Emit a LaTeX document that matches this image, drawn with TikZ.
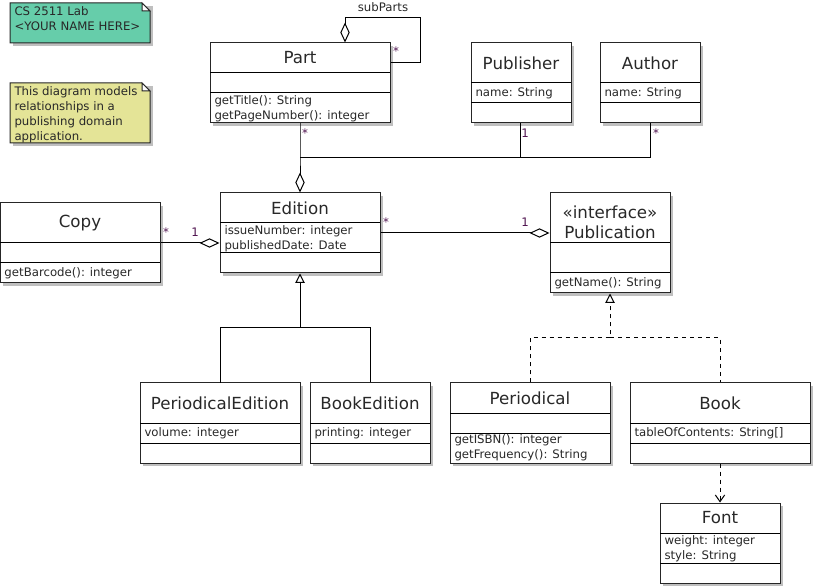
\documentclass[tikz,border=0pt]{standalone}
\usepackage{fontspec}
\setmainfont{DejaVu Sans}
\usetikzlibrary{arrows.meta}
\definecolor{notegreen}{RGB}{102,205,170}
\definecolor{noteyellow}{RGB}{228,228,151}
\definecolor{txt}{RGB}{40,40,40}
\definecolor{mult}{RGB}{80,20,80}
\tikzset{every picture/.style={line width=0.75pt}}
\tikzset{
  classbox/.style={draw=black!85, fill=white, inner sep=0pt},
  boxshadow/.style={fill=black!25, draw=none},
  title/.style={inner sep=0pt, font=\fontsize{12.5}{15}\selectfont, text=txt, align=center},
  member/.style={anchor=north west, inner sep=0pt, font=\fontsize{8.8}{11.2}\selectfont, text=txt, align=left},
  multlabel/.style={inner sep=0pt, font=\fontsize{8.8}{11}\selectfont, text=mult},
  diam/.style={-{Diamond[open,fill=white,length=15pt,width=7pt]}},
  inherit/.style={-{Triangle[open,fill=white,length=7pt,width=7pt]}},
  depend/.style={dashed, -{Straight Barb[length=5pt,width=7pt]}},
}
% class box: name, x1, y1, x2, y2
\newcommand{\umlbox}[5]{%
  \fill[boxshadow] (#2+3,#3+3) rectangle (#4+3,#5+3);
  \node[classbox, minimum width={(#4-#2)*0.75pt}, minimum height={(#5-#3)*0.75pt}] (#1) at ({(#2+#4)/2},{(#3+#5)/2}) {};
}
\newcommand{\umlnote}[6]{%
  \fill[boxshadow] (#2+3,#3+3) rectangle (#4+3,#5+3);
  \draw[fill=#6, draw=black!85] (#2,#3) -- (#4-8,#3) -- (#4,#3+8) -- (#4,#5) -- (#2,#5) -- cycle;
  \draw[draw=black!85, fill=white] (#4-8,#3) -- (#4-8,#3+8) -- (#4,#3+8) -- cycle;
  \coordinate (#1) at (#2,#3);
}
\begin{document}
\begin{tikzpicture}[x=0.75pt,y=0.75pt,yscale=-1,xscale=1]
\useasboundingbox (0,0) rectangle (815,588);

% notes
\umlnote{labnote}{10}{3}{150}{43}{notegreen}
\node[member] at (14,6) {CS 2511 Lab\\<YOUR NAME HERE>};
\umlnote{infonote}{10}{83}{150}{143}{noteyellow}
\node[member] at (14,86) {This diagram models\\relationships in a\\publishing domain\\application.};

% classes
\umlbox{part}{210}{43}{390}{123}
\draw (210,73) -- (390,73) (210,93) -- (390,93);
\node[title] (partname) at (300,58) {Part};
\node[member] at (214,95) {getTitle(): String\\getPageNumber(): integer};

\umlbox{publisher}{471}{43}{571}{123}
\draw (471,83) -- (571,83) (471,103) -- (571,103);
\node[title] (publishername) at (521,63) {Publisher};
\node[member] at (475,87) {name: String};

\umlbox{author}{600}{43}{700}{123}
\draw (600,83) -- (700,83) (600,103) -- (700,103);
\node[title] (authorname) at (650,63) {Author};
\node[member] at (604,87) {name: String};

\umlbox{edition}{220}{193}{380}{273}
\draw (220,223) -- (380,223) (220,253) -- (380,253);
\node[title] (editionname) at (300,208) {Edition};
\node[member] at (224,225) {issueNumber: integer\\publishedDate: Date};

\umlbox{copy}{0}{203}{160}{283}
\draw (0,243) -- (160,243) (0,263) -- (160,263);
\node[title] (copyname) at (80,223) {Copy};
\node[member] at (4,267) {getBarcode(): integer};

\umlbox{publication}{550}{193}{670}{293}
\draw (550,243) -- (670,243) (550,273) -- (670,273);
\node[title] (publicationname) at (610,222) {«interface»\\Publication};
\node[member] at (554,277) {getName(): String};

\umlbox{periodicaledition}{140}{383}{300}{463}
\draw (140,423) -- (300,423) (140,443) -- (300,443);
\node[title] (periodicaleditionname) at (220,403) {PeriodicalEdition};
\node[member] at (144,427) {volume: integer};

\umlbox{bookedition}{310}{383}{430}{463}
\draw (310,423) -- (430,423) (310,443) -- (430,443);
\node[title] (bookeditionname) at (370,403) {BookEdition};
\node[member] at (314,427) {printing: integer};

\umlbox{periodical}{450}{383}{610}{463}
\draw (450,413) -- (610,413) (450,433) -- (610,433);
\node[title] (periodicalname) at (530,398) {Periodical};
\node[member] at (454,434) {getISBN(): integer\\getFrequency(): String};

\umlbox{book}{630}{383}{810}{463}
\draw (630,423) -- (810,423) (630,443) -- (810,443);
\node[title] (bookname) at (720,403) {Book};
\node[member] at (634,427) {tableOfContents: String[]};

\umlbox{font}{660}{503}{780}{583}
\draw (660,533) -- (780,533) (660,563) -- (780,563);
\node[title] (fontname) at (720,518) {Font};
\node[member] at (664,535) {weight: integer\\style: String};

% connectors
\draw[diam] (part.east |- 0,63) -- (420,63) -- (420,18) -- (345,18) -- (part.north -| 345,0);
\node[title, font=\fontsize{8.8}{11}\selectfont] (subparts) at (383,7) {subParts};
\node[multlabel] (m1) at (396,51) {*};

\coordinate (joint) at (300,158);
\draw[diam] (part.south) -- (joint) -- (edition.north);
\draw (joint) -- (650,158);
\draw (publisher.south -| 520,0) -- (520,158);
\draw (author.south) -- (650,158);
\node[multlabel] (m2) at (305,133) {*};
\node[multlabel] (m3) at (525,133) {1};
\node[multlabel] (m4) at (656,133) {*};

\draw[diam] (copy.east |- 0,243) -- (edition.west |- 0,243);
\node[multlabel] (m5) at (166,232) {*};
\node[multlabel] (m6) at (195,232) {1};

\draw[diam] (edition.east |- 0,233) -- (publication.west |- 0,233);
\node[multlabel] (m7) at (386,222) {*};
\node[multlabel] (m8) at (525,222) {1};

\draw[inherit] (220,383) -- (220,328) -- (300,328) -- (edition.south);
\draw (300,328) -- (370,328) -- (bookedition.north);

\draw[inherit, dashed] (periodical.north -| 530,0) -- (530,338) -- (610,338) -- (publication.south);
\draw[dashed] (610,338) -- (720,338) -- (book.north);

\draw[depend] (book.south) -- (font.north);
\end{tikzpicture}
\end{document}
